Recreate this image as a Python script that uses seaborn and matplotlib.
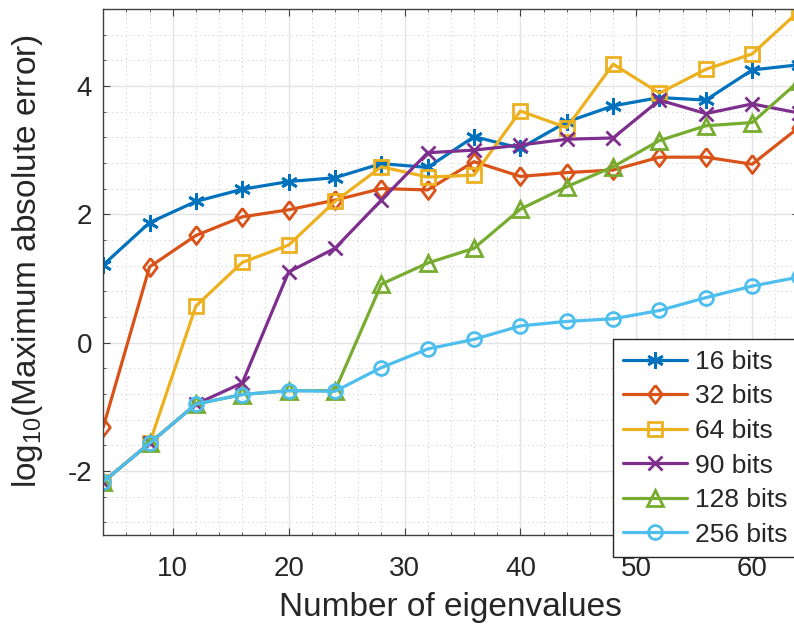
import matplotlib
matplotlib.use("Agg")
import matplotlib.pyplot as plt
from matplotlib.ticker import MultipleLocator
import pandas as pd
import seaborn as sns

# Number of eigenvalues on the x axis
eigen_counts = [4, 8, 12, 16, 20, 24, 28, 32, 36, 40, 44, 48, 52, 56, 60, 64]

# log10 of the maximum absolute error for each precision
err_16 = [1.21, 1.87, 2.20, 2.39, 2.51, 2.57, 2.79, 2.73, 3.21, 3.03, 3.44, 3.69, 3.82, 3.78, 4.25, 4.33]
err_32 = [-1.32, 1.18, 1.67, 1.96, 2.07, 2.22, 2.40, 2.38, 2.82, 2.59, 2.65, 2.69, 2.89, 2.89, 2.78, 3.35]
err_64 = [-2.17, -1.57, 0.57, 1.25, 1.52, 2.20, 2.74, 2.58, 2.61, 3.61, 3.35, 4.34, 3.89, 4.26, 4.50, 5.16]
err_90 = [-2.17, -1.57, -0.96, -0.63, 1.10, 1.47, 2.22, 2.96, 3.00, 3.08, 3.17, 3.19, 3.78, 3.57, 3.72, 3.58]
err_128 = [-2.17, -1.57, -0.96, -0.81, -0.75, -0.75, 0.91, 1.24, 1.47, 2.08, 2.43, 2.74, 3.15, 3.38, 3.43, 4.07]
err_256 = [-2.17, -1.57, -0.96, -0.81, -0.75, -0.76, -0.39, -0.10, 0.05, 0.26, 0.33, 0.37, 0.50, 0.70, 0.88, 1.02]

series_labels = ["16 bits", "32 bits", "64 bits", "90 bits", "128 bits", "256 bits"]
series_values = [err_16, err_32, err_64, err_90, err_128, err_256]

x_ticks = [10, 20, 30, 40, 50, 60]
y_ticks = [-2, 0, 2, 4]

colors = ["#0072BD", "#D95319", "#EDB120", "#7E2F8E", "#77AC30", "#4DBEEE"]
diamond = [(0, 1), (0.75, 0), (0, -1), (-0.75, 0), (0, 1)]
marker_styles = [(6, 2, 0), diamond, "s", "x", "^", "o"]
marker_sizes = [12, 13, 9.5, 10, 12, 10]

sns.set_theme(style="ticks")
plt.rcParams["font.family"] = ["Liberation Sans", "DejaVu Sans"]
plt.rcParams["mathtext.fontset"] = "custom"
plt.rcParams["mathtext.rm"] = "Liberation Sans"
plt.rcParams["mathtext.it"] = "Liberation Sans:italic"
plt.rcParams["axes.unicode_minus"] = False

df = pd.concat(
    [pd.DataFrame({"n": eigen_counts, "err": vals, "precision": lab})
     for lab, vals in zip(series_labels, series_values)],
    ignore_index=True,
)

fig = plt.figure(figsize=(7.94, 6.35), dpi=100)
ax = fig.add_axes([0.130, 0.1575, 0.8757, 0.8283])

for lab, col, mk, ms in zip(series_labels, colors, marker_styles, marker_sizes):
    sns.lineplot(
        data=df[df["precision"] == lab], x="n", y="err", ax=ax,
        color=col, marker=mk, markersize=ms,
        markerfacecolor="none", markeredgecolor=col, markeredgewidth=2.0,
        linewidth=2.3, label=lab, errorbar=None, legend=False,
    )

ax.set_xlim(4, 64)
ax.set_ylim(-3, 5.2)
ax.set_xticks(x_ticks)
ax.set_yticks(y_ticks)
ax.xaxis.set_minor_locator(MultipleLocator(2))
ax.yaxis.set_minor_locator(MultipleLocator(0.4))

ax.set_axisbelow(True)
ax.grid(which="major", color="#e3e3e3", linewidth=1.0, linestyle="-")
ax.grid(which="minor", color="#c8c8c8", linewidth=0.7, linestyle=(0, (1, 3.5)))

for sp in ax.spines.values():
    sp.set_color("#404040")
    sp.set_linewidth(1.0)
    sp.set_visible(True)

ax.tick_params(which="both", direction="in", top=True, right=True, colors="#404040")
ax.tick_params(which="major", length=5, width=0.8, labelsize=20, labelcolor="#262626")
ax.tick_params(which="minor", length=2.5, width=0.6)
ax.tick_params(axis="x", which="major", pad=15)
ax.tick_params(axis="y", which="major", pad=8)

ax.set_xlabel("Number of eigenvalues", fontsize=24, color="#262626")
ax.set_ylabel(r"log$_{10}$(Maximum absolute error)", fontsize=24, color="#262626")
ax.xaxis.set_label_coords(0.5, -0.108)
ax.yaxis.set_label_coords(-0.084, 0.52)

handles, labels = ax.get_legend_handles_labels()
leg = fig.legend(
    handles, labels, loc="upper left", bbox_to_anchor=(0.7717, 0.4657),
    bbox_transform=fig.transFigure, fontsize=19, frameon=True, fancybox=False,
    framealpha=1, edgecolor="#262626", handlelength=2.4, handletextpad=0.3,
    labelspacing=0.4, borderpad=0.4, borderaxespad=0,
)
leg.get_frame().set_linewidth(1.0)

fig.savefig("out.png", dpi=100)
